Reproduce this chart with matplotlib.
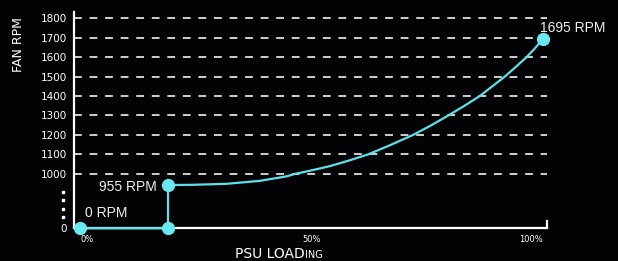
import numpy as np
import matplotlib.pyplot as plt
from matplotlib.ticker import NullLocator

# fan curve (PSU load in %, fan speed in RPM)
load_pct = [0, 19, 19, 24.4, 31.7, 38.9, 44.6, 46.5, 50, 54, 58, 62.2, 67, 71.9,
            75.7, 79.5, 83, 86.3, 89, 91.7, 94, 96.4, 98.2, 100]
fan_rpm = [0, 0, 955, 956, 960, 972, 990, 1000, 1018, 1040, 1068, 1100, 1148, 1200,
           1248, 1300, 1350, 1400, 1450, 1500, 1548, 1600, 1645, 1695]

key_pct = [0, 19, 19, 100]
key_rpm = [0, 0, 955, 1695]
key_labels = ["0 RPM", None, "955 RPM", "1695 RPM"]

y_ticks = [0, 1000, 1100, 1200, 1300, 1400, 1500, 1600, 1700, 1800]
x_ticks = [0, 50, 100]
x_tick_labels = ["0%", "50%", "100%"]

# broken axis: 0..1000 squeezed into the bottom
knots_rpm = [0, 900, 1000, 2000]
knots_pos = [0, 1.52, 2.8, 12.8]


def fwd(v):
    return np.interp(v, knots_rpm, knots_pos)


def inv(p):
    return np.interp(p, knots_pos, knots_rpm)


bg = "#030306"
cyan = "#5fdfe8"

fig = plt.figure(figsize=(6.18, 2.61), dpi=100, facecolor=bg)
ax = fig.add_axes([74 / 618, 32.7 / 261, 472.7 / 618, 216.6 / 261])
ax.set_facecolor(bg)
ax.set_yscale("function", functions=(fwd, inv))
ax.set_xlim(-1.3, 100.75)
ax.set_ylim(0, 1833.6)

ax.set_yticks(y_ticks)
ax.set_yticklabels([str(v) for v in y_ticks])
ax.yaxis.set_minor_locator(NullLocator())
ax.tick_params(axis="y", length=0, pad=5.3, labelsize=7.5, labelcolor="white")

ax.set_xticks(x_ticks)
ax.set_xticklabels(x_tick_labels)
ax.tick_params(axis="x", length=0, pad=5.0, labelsize=6, labelcolor="white")
lbls = ax.get_xticklabels()
lbls[0].set_ha("left")
lbls[2].set_ha("right")
ax.set_xticks([50], minor=True)
ax.tick_params(axis="x", which="minor", direction="in", length=3, width=1.4, color="white")

ax.yaxis.grid(True, color="#cfcfcf", lw=1.4, linestyle=(0, (4, 4)))
ax.set_axisbelow(True)

for s in ["top", "right"]:
    ax.spines[s].set_visible(False)
for s in ["left", "bottom"]:
    ax.spines[s].set_color("white")
    ax.spines[s].set_linewidth(1.6)
ax.axvline(100.75, ymin=0, ymax=0.032, color="white", lw=1.6, clip_on=False)

# dots for the broken part of the axis
ax.scatter([-0.0233] * 4, [0.0522, 0.0891, 0.1307, 0.1676], s=3, marker="s",
           color="white", transform=ax.transAxes, clip_on=False, zorder=5)

ax.plot(load_pct, fan_rpm, color=cyan, lw=1.6, solid_joinstyle="round",
        zorder=3, clip_on=False)
ax.plot(key_pct, key_rpm, "o", ms=8.5, color="#6ae8f1", zorder=4, clip_on=False)

offsets = [(3.6, 7.9, "left"), None, (-8.1, -4.3, "right"), (-2.4, 4.6, "left")]
for x, y, lab, off in zip(key_pct, key_rpm, key_labels, offsets):
    if lab is None:
        continue
    ax.annotate(lab, (x, y), xytext=off[:2], textcoords="offset points",
                ha=off[2], va="baseline", fontsize=10, color="#eeeeee",
                family="Liberation Sans", annotation_clip=False)

fig.text(18.5 / 618, 1 - 45 / 261, "FAN RPM", rotation=90, ha="center",
         va="center", fontsize=9, color="white")
fig.text(305 / 618, 0.01, "PSU LOAD", ha="right", va="baseline",
         fontsize=10, color="white")
fig.text(305 / 618, 0.01, "ING", ha="left", va="baseline",
         fontsize=7, color="white")

plt.savefig("out.png", dpi=100, facecolor=fig.get_facecolor())
plt.close()
